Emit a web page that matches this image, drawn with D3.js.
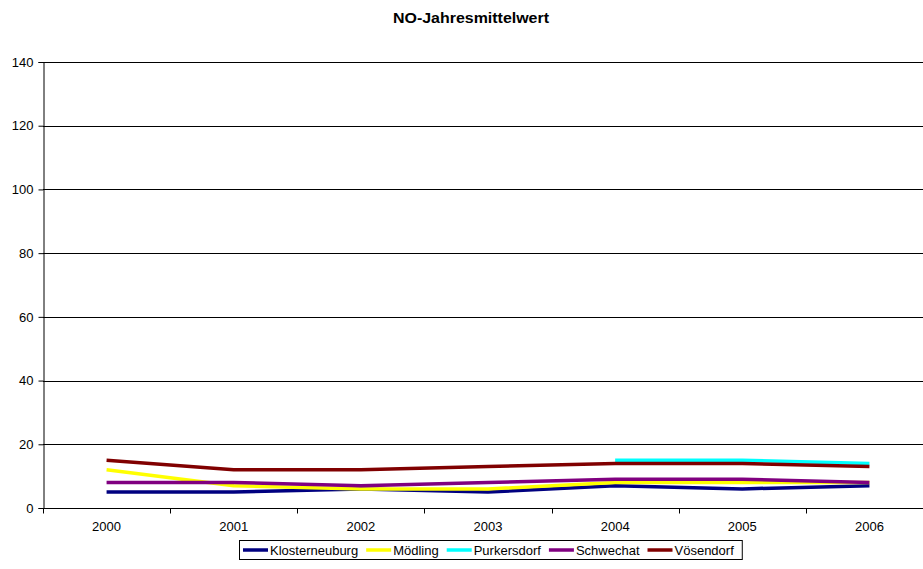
<!DOCTYPE html>
<html>
<head>
<meta charset="utf-8">
<script src="https://cdn.jsdelivr.net/npm/d3@7"></script>
<style>
  body { margin: 0; background: #fff; }
  text { font-family: "Liberation Sans", Arial, sans-serif; }
</style>
</head>
<body>
<script>
let w = 923
let h = 569

let years = ["2000", "2001", "2002", "2003", "2004", "2005", "2006"]
let yTicks = [0, 20, 40, 60, 80, 100, 120, 140]

let stations = ["Klosterneuburg", "Mödling", "Purkersdorf", "Schwechat", "Vösendorf"]
let colors = ["#000080", "#ffff00", "#00ffff", "#800080", "#800000"]

let klosterneuburg = [5, 5, 6, 5, 7, 6, 7]
let moedling = [12, 7, 6, 6, 8, 8, 8]
let purkersdorf = [null, null, null, null, 15, 15, 14]
let schwechat = [8, 8, 7, 8, 9, 9, 8]
let voesendorf = [15, 12, 12, 13, 14, 14, 13]

let series = [klosterneuburg, moedling, purkersdorf, schwechat, voesendorf]

let svg = d3.select("body").append("svg")
  .attr("width", w)
  .attr("height", h)

let plotLeft = 43
let plotRight = 933
let plotTop = 62
let plotBottom = 508

let xScale = d3.scaleBand().domain(years).range([plotLeft, plotRight])
let yScale = d3.scaleLinear().domain([0, 140]).range([plotBottom, plotTop])

// title
svg.append("text")
  .text("NO-Jahresmittelwert")
  .attr("x", 471)
  .attr("y", 23)
  .attr("text-anchor", "middle")
  .attr("font-size", 15)
  .attr("font-weight", "bold")
  .attr("textLength", 156)
  .attr("lengthAdjust", "spacingAndGlyphs")

// gridlines
svg.append("g")
  .selectAll("line")
  .data(yTicks.filter(d => d > 0))
  .enter()
  .append("line")
  .attr("x1", plotLeft)
  .attr("x2", plotRight)
  .attr("y1", d => Math.round(yScale(d)) + 0.5)
  .attr("y2", d => Math.round(yScale(d)) + 0.5)
  .attr("stroke", "#000")
  .attr("stroke-width", 1)

// y axis
let yAxis = d3.axisLeft(yScale).tickValues(yTicks).tickSize(5).tickPadding(5)
let yg = svg.append("g")
  .attr("transform", "translate(" + (plotLeft + 0.5) + ",0)")
  .call(yAxis)
yg.select(".domain").attr("stroke", "#000")
yg.selectAll("text").attr("font-size", 13).attr("font-family", "Liberation Sans, Arial, sans-serif").attr("fill", "#000")

// x axis with ticks between categories
let xAxis = d3.axisBottom(xScale).tickSize(0).tickPadding(13)
let xg = svg.append("g")
  .attr("transform", "translate(0," + (plotBottom + 0.5) + ")")
  .call(xAxis)
xg.select(".domain").remove()
xg.selectAll("text").attr("font-size", 13).attr("font-family", "Liberation Sans, Arial, sans-serif").attr("fill", "#000")
xg.append("line").attr("x1", plotLeft).attr("x2", plotRight).attr("stroke", "#000")
xg.selectAll(".sep")
  .data(years.concat(["end"]))
  .enter()
  .append("line")
  .attr("class", "sep")
  .attr("x1", (d, i) => Math.round(plotLeft + i * xScale.step()) + 0.5)
  .attr("x2", (d, i) => Math.round(plotLeft + i * xScale.step()) + 0.5)
  .attr("y1", 0)
  .attr("y2", 5)
  .attr("stroke", "#000")

// lines
let line = d3.line()
  .defined(d => d != null)
  .x((d, i) => xScale(years[i]) + xScale.bandwidth() / 2)
  .y(d => yScale(d))

svg.append("g")
  .selectAll("path")
  .data(series)
  .enter()
  .append("path")
  .attr("d", d => line(d))
  .attr("fill", "none")
  .attr("stroke", (d, i) => colors[i])
  .attr("stroke-width", 3.5)
  .attr("stroke-linejoin", "round")

// legend
let legend = svg.append("g").attr("id", "legend")
let lx = 243
let ly = 550
stations.forEach((s, i) => {
  legend.append("line")
    .attr("x1", lx).attr("x2", lx + 25)
    .attr("y1", ly).attr("y2", ly)
    .attr("stroke", colors[i])
    .attr("stroke-width", 3.5)
  let t = legend.append("text")
    .text(s)
    .attr("x", lx + 27)
    .attr("y", ly + 5)
    .attr("font-size", 13)
  lx = lx + 27 + t.node().getComputedTextLength() + 8
})
legend.insert("rect", ":first-child")
  .attr("x", 239.5)
  .attr("y", 540.5)
  .attr("width", lx - 239)
  .attr("height", 19)
  .attr("fill", "#fff")
  .attr("stroke", "#000")
</script>
</body>
</html>
